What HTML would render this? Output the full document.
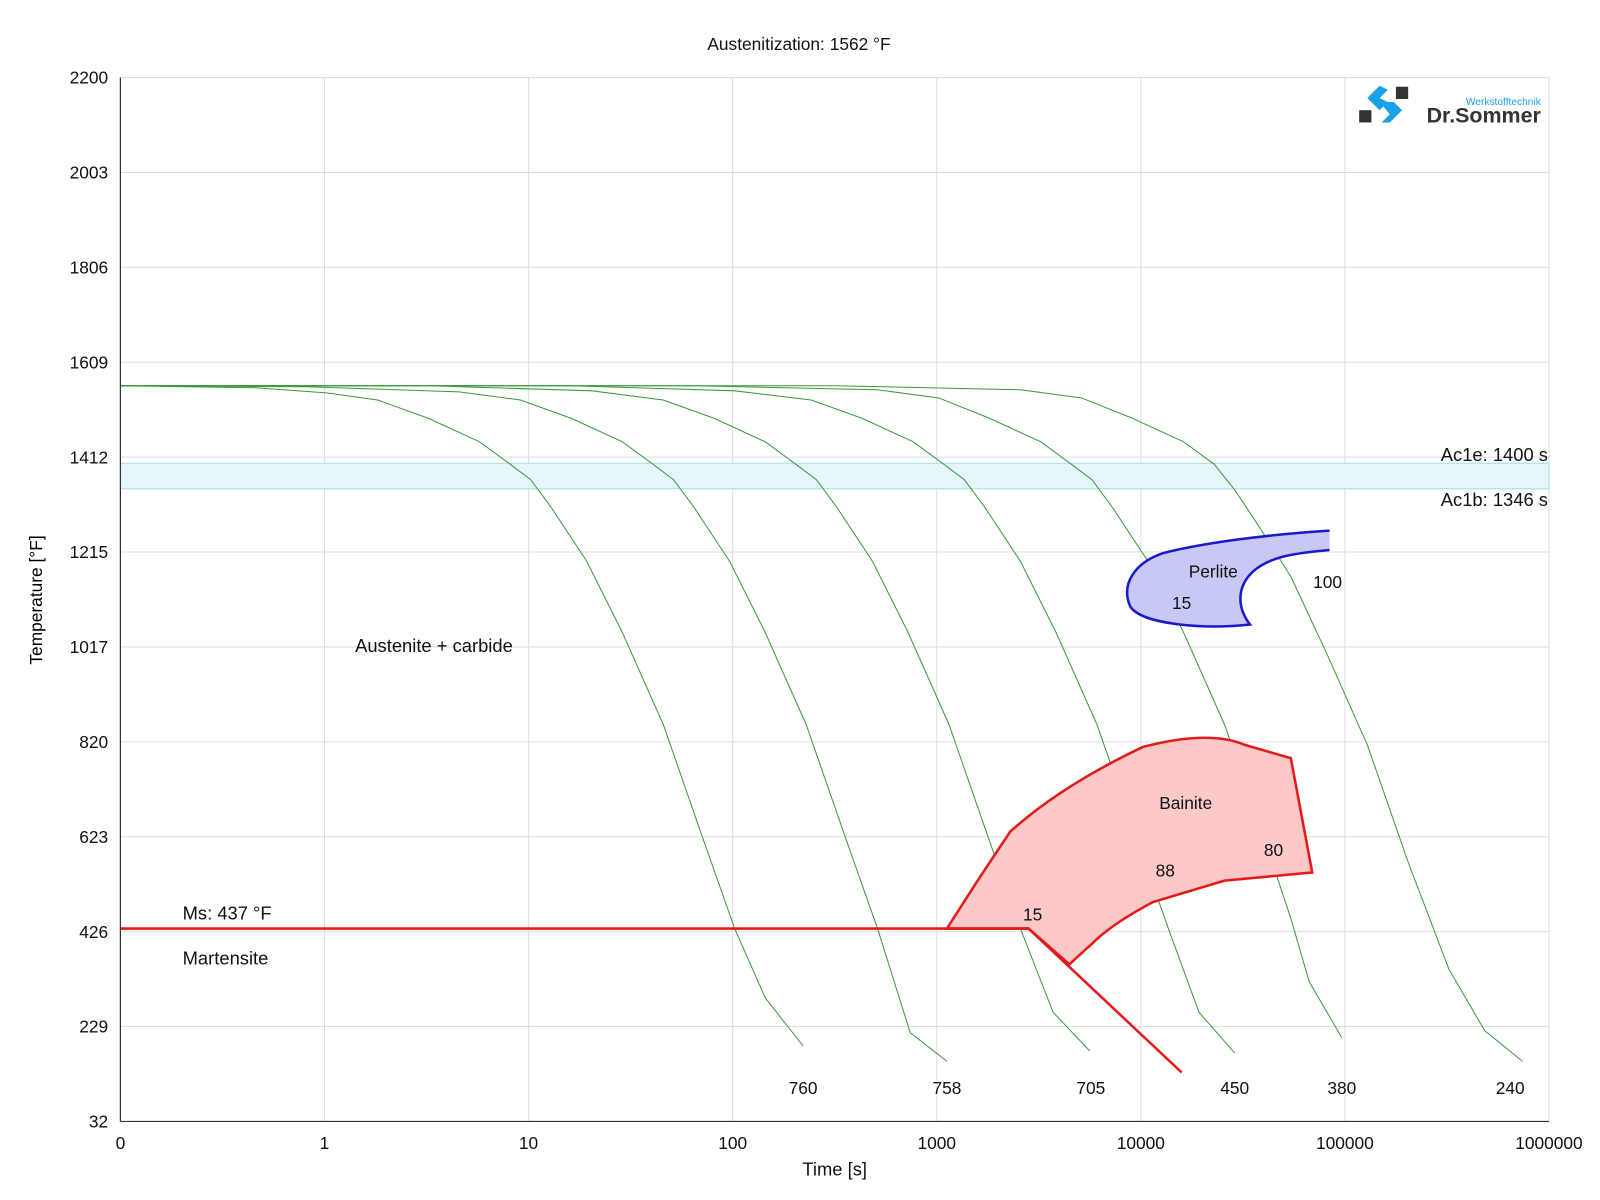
<!DOCTYPE html><html><head><style>body{margin:0;background:#fff}svg{font-family:"Liberation Sans",sans-serif;display:block}</style></head><body>
<svg width="1600" height="1200" viewBox="0 0 1568 1176" preserveAspectRatio="none" xmlns="http://www.w3.org/2000/svg">
<rect width="1568" height="1176" fill="#fff"/>
<g stroke="#dedede" stroke-width="1">
<line x1="318" y1="76" x2="318" y2="1099"/><line x1="518" y1="76" x2="518" y2="1099"/><line x1="718" y1="76" x2="718" y2="1099"/><line x1="918" y1="76" x2="918" y2="1099"/><line x1="1118" y1="76" x2="1118" y2="1099"/><line x1="1318" y1="76" x2="1318" y2="1099"/><line x1="1518" y1="76" x2="1518" y2="1099"/>
<line x1="118" y1="76" x2="1518" y2="76"/><line x1="118" y1="169" x2="1518" y2="169"/><line x1="118" y1="262" x2="1518" y2="262"/><line x1="118" y1="355" x2="1518" y2="355"/><line x1="118" y1="448" x2="1518" y2="448"/><line x1="118" y1="541" x2="1518" y2="541"/><line x1="118" y1="634" x2="1518" y2="634"/><line x1="118" y1="727" x2="1518" y2="727"/><line x1="118" y1="820" x2="1518" y2="820"/><line x1="118" y1="913" x2="1518" y2="913"/><line x1="118" y1="1006" x2="1518" y2="1006"/>
</g>
<rect x="118" y="454" width="1400" height="25" fill="#e6f6fa" stroke="#a8dce8" stroke-width="1"/>
<g fill="none" stroke="#3a9a3a" stroke-width="1">
<polyline points="118,378 250,380 320,385 370,392 420,410 470,433 500,455 520,470 540,497 575,550 610,620 650,710 690,825 720,910 750,978 787,1025"/>
<polyline points="118,378 300,379 450,384 510,392 560,410 610,433 640,455 660,470 680,497 715,550 750,620 790,710 830,825 860,910 892,1012 928,1040"/>
<polyline points="118,378 420,378 580,383 650,392 700,410 750,433 780,455 800,470 820,497 855,550 890,620 930,710 970,825 1000,910 1032,992 1068,1030"/>
<polyline points="118,378 560,378 720,383 795,392 845,410 895,433 925,455 945,470 965,497 1000,550 1035,620 1075,710 1115,825 1145,910 1175,992 1210,1032"/>
<polyline points="118,378 680,378 860,382 920,390 970,410 1020,433 1050,455 1070,470 1090,497 1125,550 1160,620 1200,710 1240,825 1265,900 1283,962 1315,1017"/>
<polyline points="118,378 820,378 1000,382 1060,390 1110,410 1160,433 1190,455 1210,480 1230,510 1265,565 1300,640 1340,730 1380,845 1420,950 1455,1010 1492,1040"/>
</g>
<path d="M1303,520 C1240,524 1180,532 1140,542 C1110,552 1098,575 1108,595 C1120,612 1180,617 1225,612 C1212,595 1212,575 1228,560 C1245,545 1270,542 1303,539" fill="#c8c8f5" stroke="#1a1acd" stroke-width="2.5"/>
<path d="M928,910 L960,860 L990,815 Q1040,770 1120,732 Q1185,715 1220,730 L1265,743 L1286,855 L1200,863 L1130,884 Q1090,905 1070,925 L1048,945 L1008,910 Z" fill="#fcc8c8" stroke="#e51a1a" stroke-width="2.5"/>
<polyline points="118,910 1008,910 1158,1051" fill="none" stroke="#e51a1a" stroke-width="2.5"/>
<g stroke="#333" stroke-width="1.2"><line x1="118" y1="76" x2="118" y2="1099"/><line x1="118" y1="1099" x2="1518" y2="1099"/></g>
<g font-size="17" fill="#111" text-anchor="end">
<text x="106" y="82">2200</text><text x="106" y="175">2003</text><text x="106" y="268">1806</text><text x="106" y="361">1609</text><text x="106" y="454">1412</text><text x="106" y="547">1215</text><text x="106" y="640">1017</text><text x="106" y="733">820</text><text x="106" y="826">623</text><text x="106" y="919">426</text><text x="106" y="1012">229</text><text x="106" y="1105">32</text>
</g>
<g font-size="17" fill="#111" text-anchor="middle">
<text x="118" y="1126">0</text><text x="318" y="1126">1</text><text x="518" y="1126">10</text><text x="718" y="1126">100</text><text x="918" y="1126">1000</text><text x="1118" y="1126">10000</text><text x="1318" y="1126">100000</text><text x="1518" y="1126">1000000</text>
<text x="818" y="1152" font-size="18">Time [s]</text>
<text x="783" y="49" font-size="17">Austenitization: 1562 °F</text>
<text x="787" y="1072">760</text><text x="928" y="1072">758</text><text x="1069" y="1072">705</text><text x="1210" y="1072">450</text><text x="1315" y="1072">380</text><text x="1480" y="1072">240</text>
<text x="1012" y="902">15</text><text x="1142" y="859">88</text><text x="1248" y="839">80</text><text x="1162" y="793">Bainite</text>
<text x="1189" y="566">Perlite</text><text x="1158" y="597">15</text><text x="1301" y="576">100</text>
</g>
<text x="41" y="588" font-size="17" text-anchor="middle" transform="rotate(-90 41 588)">Temperature [°F]</text>
<g font-size="18" fill="#111">
<text x="348" y="639">Austenite + carbide</text>
<text x="179" y="901">Ms: 437 °F</text><text x="179" y="945">Martensite</text>
<text x="1517" y="452" text-anchor="end">Ac1e: 1400 s</text><text x="1517" y="496" text-anchor="end">Ac1b: 1346 s</text>
</g>
<rect x="1332" y="108" width="12" height="12" fill="#333"/><rect x="1368" y="85" width="12" height="12" fill="#333"/>
<path d="M1352,84 L1340,96 L1352,108 L1360,100 L1352,96 L1360,88Z" fill="#1aa0e6"/>
<path d="M1352,100 L1366,100 L1374,108 L1362,120 L1354,120 L1362,112Z" fill="#1aa0e6"/>
<text x="1510" y="103" font-size="10" fill="#1aa0e6" text-anchor="end">Werkstofftechnik</text>
<text x="1510" y="120" font-size="21" font-weight="bold" fill="#333" text-anchor="end">Dr.Sommer</text>
</svg></body></html>
